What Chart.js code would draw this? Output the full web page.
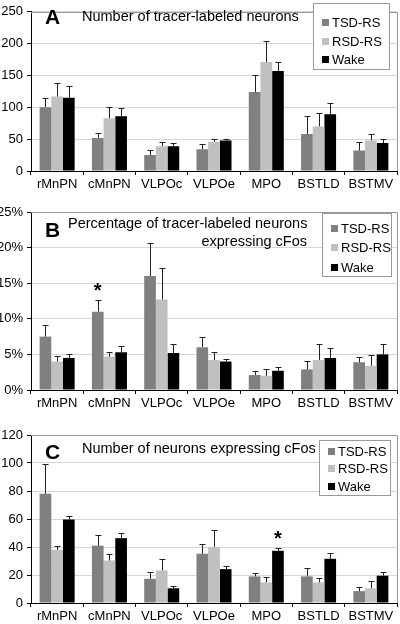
<!DOCTYPE html>
<html>
<head>
<meta charset="utf-8">
<script src="https://cdn.jsdelivr.net/npm/chart.js@4.4.1/dist/chart.umd.min.js"></script>
<style>
  body { margin: 0; background: #fff; width: 400px; height: 624px; overflow: hidden; position: relative; }
  .panel { position: absolute; left: 0; }
  canvas { display: block; }
</style>
</head>
<body>
<div class="panel" style="top:0"><canvas id="chartA" width="400" height="200"></canvas></div>
<div class="panel" style="top:200px"><canvas id="chartB" width="400" height="215"></canvas></div>
<div class="panel" style="top:415px"><canvas id="chartC" width="400" height="209"></canvas></div>
<script>
// Categories and groups
const regions = ['rMnPN', 'cMnPN', 'VLPOc', 'VLPOe', 'MPO', 'BSTLD', 'BSTMV'];
const groups = ['TSD-RS', 'RSD-RS', 'Wake'];
const barColors = ['#808080', '#c0c0c0', '#000000'];

// A: number of tracer-labeled neurons (mean, SEM)
const tsdA = [100, 52, 25, 34, 124, 58, 32];
const rsdA = [117, 83, 39, 46, 171, 70, 48];
const wakeA = [115, 86, 39, 48, 157, 89, 44];
const tsdAErr = [15, 8, 8, 8, 27, 28, 13];
const rsdAErr = [21, 17, 7, 4, 33, 21, 10];
const wakeAErr = [18, 13, 5, 2, 14, 18, 6];

// B: % of tracer-labeled neurons expressing cFos
const tsdB = [7.5, 11.0, 16.0, 6.0, 2.1, 2.9, 3.9];
const rsdB = [4.0, 4.7, 12.7, 4.2, 2.0, 4.2, 3.4];
const wakeB = [4.5, 5.3, 5.2, 4.0, 2.7, 4.5, 5.0];
const tsdBErr = [1.6, 1.6, 4.7, 1.4, 0.5, 1.2, 0.7];
const rsdBErr = [0.8, 0.6, 4.5, 1.2, 0.9, 2.3, 1.5];
const wakeBErr = [0.5, 0.9, 1.3, 0.4, 0.6, 1.4, 1.4];

// C: number of neurons expressing cFos
const tsdC = [78, 41, 17.3, 35.2, 19, 19, 8.5];
const rsdC = [38, 30.4, 23.3, 40, 14.7, 14.7, 10.5];
const wakeC = [59.6, 46.3, 10.5, 24.2, 37.3, 31.6, 19.5];
const tsdCErr = [21, 7.5, 4.6, 7, 2.4, 6, 3];
const rsdCErr = [2.4, 4.6, 8, 12.5, 3.8, 3.5, 5];
const wakeCErr = [2.6, 3.7, 1.9, 1.9, 1.7, 4.3, 3];

// significance stars: [group index, region index]
const starsB = [[0, 1]];
const starsC = [[2, 4]];

const FONT = "'Liberation Sans', Arial, sans-serif";
Chart.defaults.font.family = FONT;
Chart.defaults.color = '#000';

// error bars (upper only) + asterisks
const errorBars = {
    id: 'errorBars',
    afterDatasetsDraw(chart, args, o) {
        const { ctx, scales: { y } } = chart;
        ctx.save();
        ctx.strokeStyle = '#222';
        ctx.lineWidth = 1;
        chart.data.datasets.forEach((ds, di) => {
            chart.getDatasetMeta(di).data.forEach((bar, i) => {
                const x = Math.round(bar.x) + 0.5;
                const top = Math.round(y.getPixelForValue(ds.data[i] + ds.err[i])) + 0.5;
                ctx.beginPath();
                ctx.moveTo(x, bar.y);
                ctx.lineTo(x, top);
                ctx.moveTo(x - 3, top);
                ctx.lineTo(x + 3, top);
                ctx.stroke();
            });
        });
        ctx.fillStyle = '#000';
        ctx.font = 'bold 20px ' + FONT;
        ctx.textAlign = 'center';
        ctx.textBaseline = 'middle';
        (o.stars || []).forEach(([di, i]) => {
            const ds = chart.data.datasets[di];
            const bar = chart.getDatasetMeta(di).data[i];
            const top = y.getPixelForValue(ds.data[i] + ds.err[i]);
            ctx.fillText('*', bar.x, top - 9);
        });
        ctx.restore();
    }
};

// frame, panel letter, title and legend box
const decorations = {
    id: 'decorations',
    afterDraw(chart, args, o) {
        const { ctx, chartArea: ca } = chart;
        ctx.save();
        ctx.strokeStyle = '#999';
        ctx.lineWidth = 1;
        ctx.beginPath();
        ctx.moveTo(ca.left, Math.round(ca.top) + 0.5);
        ctx.lineTo(Math.round(ca.right) + 0.5, Math.round(ca.top) + 0.5);
        ctx.lineTo(Math.round(ca.right) + 0.5, ca.bottom);
        ctx.stroke();

        ctx.fillStyle = '#000';
        ctx.textBaseline = 'middle';
        ctx.textAlign = 'left';
        ctx.font = 'bold 21px ' + FONT;
        ctx.fillText(o.letter, 45, o.letterY);

        ctx.font = '14.5px ' + FONT;
        o.title.forEach(t => {
            ctx.textAlign = t.align || 'left';
            ctx.fillText(t.text, t.x, t.y);
        });

        const L = o.legend;
        ctx.fillStyle = '#fff';
        ctx.fillRect(L.x, L.y, L.w, L.h);
        ctx.strokeStyle = '#999';
        ctx.strokeRect(L.x + 0.5, L.y + 0.5, L.w, L.h);
        ctx.font = '13px ' + FONT;
        ctx.textAlign = 'left';
        chart.data.datasets.forEach((ds, i) => {
            const cy = L.rows[i];
            ctx.fillStyle = ds.backgroundColor;
            ctx.fillRect(L.x + 9, cy - 4, 7, 7);
            ctx.fillStyle = '#000';
            ctx.fillText(ds.label, L.x + 19, cy);
        });
        ctx.restore();
    }
};

function makePanel(id, series, errs, p) {
    new Chart(document.getElementById(id), {
        type: 'bar',
        data: {
            labels: regions,
            datasets: groups.map((g, i) => ({
                label: g,
                data: series[i],
                err: errs[i],
                backgroundColor: barColors[i],
                borderWidth: 0,
                barPercentage: 1,
                categoryPercentage: 0.67
            }))
        },
        options: {
            responsive: false,
            animation: false,
            layout: { padding: { top: p.padTop, right: 3, left: 0, bottom: 0 } },
            plugins: {
                legend: { display: false },
                tooltip: { enabled: false },
                errorBars: { stars: p.stars },
                decorations: p.deco
            },
            scales: {
                x: {
                    grid: { drawOnChartArea: false, offset: true, tickLength: 4, tickColor: '#000' },
                    border: { color: '#000' },
                    ticks: { color: '#000', font: { size: 13 }, padding: 2, maxRotation: 0, autoSkip: false },
                    afterFit(s) { s.height = p.xHeight; }
                },
                y: {
                    min: 0,
                    max: p.yMax,
                    ticks: { stepSize: p.yStep, color: '#000', font: { size: 13 }, padding: 4, callback: p.fmt },
                    grid: { color: '#d6d6d6', tickColor: '#000', tickLength: 4 },
                    border: { color: '#000' },
                    afterFit(s) { s.width = 31; }
                }
            }
        },
        plugins: [errorBars, decorations]
    });
}

makePanel('chartA', [tsdA, rsdA, wakeA], [tsdAErr, rsdAErr, wakeAErr], {
    padTop: 4, xHeight: 29, yMax: 250, yStep: 50, fmt: v => v, stars: [],
    deco: {
        letter: 'A', letterY: 18,
        title: [{ text: 'Number of tracer-labeled neurons', x: 82, y: 17 }],
        legend: { x: 313, y: 3, w: 76, h: 66, rows: [23, 42, 60] }
    }
});

makePanel('chartB', [tsdB, rsdB, wakeB], [tsdBErr, rsdBErr, wakeBErr], {
    padTop: 12, xHeight: 25, yMax: 25, yStep: 5, fmt: v => v + '%', stars: starsB,
    deco: {
        letter: 'B', letterY: 31,
        title: [
            { text: 'Percentage of tracer-labeled neurons', x: 68, y: 24 },
            { text: 'expressing cFos', x: 307, y: 42, align: 'right' }
        ],
        legend: { x: 322, y: 13, w: 69, h: 63, rows: [29, 48, 68] }
    }
});

makePanel('chartC', [tsdC, rsdC, wakeC], [tsdCErr, rsdCErr, wakeCErr], {
    padTop: 20, xHeight: 21, yMax: 120, yStep: 20, fmt: v => v, stars: starsC,
    deco: {
        letter: 'C', letterY: 38,
        title: [{ text: 'Number of neurons expressing cFos', x: 82, y: 34 }],
        legend: { x: 319, y: 25, w: 71, h: 55, rows: [37, 54, 72] }
    }
});
</script>
</body>
</html>
